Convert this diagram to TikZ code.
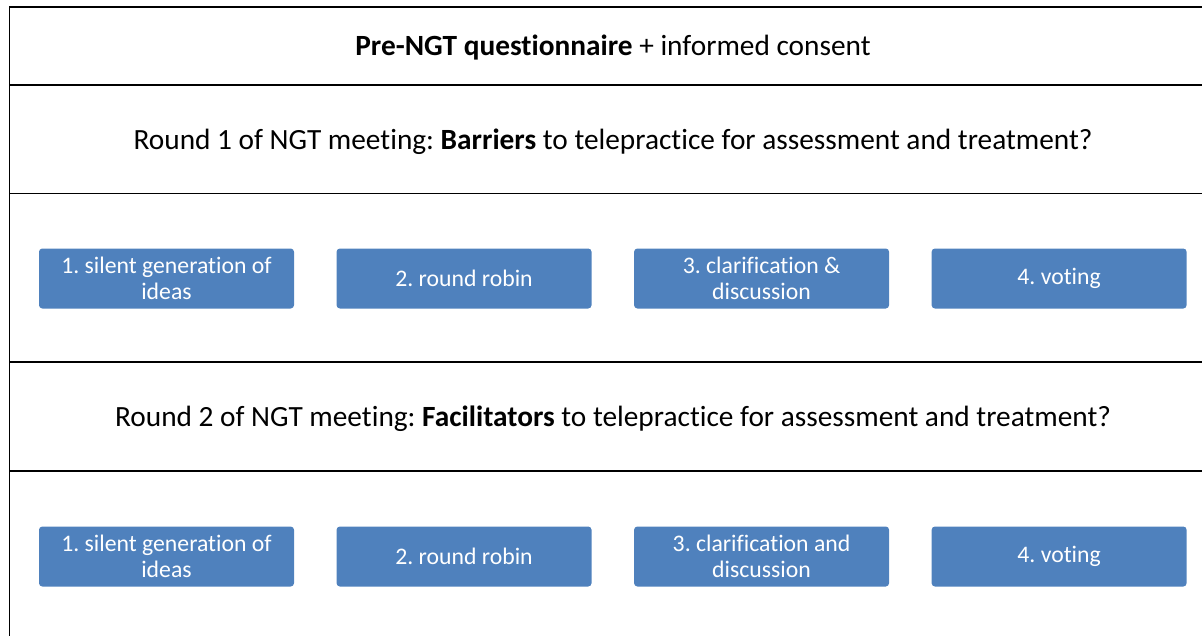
\documentclass[tikz,border=0pt]{standalone}
\usepackage{fontspec}
\setmainfont[Ligatures=NoCommon]{Carlito}
\usepackage{xcolor}
\usetikzlibrary{positioning}
\definecolor{stepblue}{HTML}{4F81BD}

\begin{document}
\frenchspacing
\begin{tikzpicture}[x=0.75pt, y=-0.75pt,
    rule/.style={line width=1pt},
    heading/.style={font=\fontsize{22}{26}\selectfont},
    stage/.style={fill=stepblue, rounded corners=2.5pt, text=white,
      minimum width=191.25pt, minimum height=45pt, text width=180pt,
      align=flush center, inner sep=0pt, font=\fontsize{17.8}{19.5}\selectfont}]
    \useasboundingbox (0,0) rectangle (1202,636);

    % table frame, open at the right and the bottom
    \draw[rule] (1202,7) -- (9.5,7) -- (9.5,636);
    \foreach \y in {85,193.5,362,471}
        \draw[rule] (9.5,\y) -- (1202,\y);

    % headings
    \node[heading] (pre) at (613,48) {\textbf{Pre-NGT questionnaire} + informed consent};
    \node[heading] (round1) at (613,142) {Round 1 of NGT meeting: \textbf{Barriers} to telepractice for assessment and treatment?};
    \node[heading] (round2) at (613,419) {Round 2 of NGT meeting: \textbf{Facilitators} to telepractice for assessment and treatment?};

    % steps of round 1
    \node[stage] (b1) at (166.5,278.5) {1. silent generation of ideas};
    \node[stage, right=31.5pt of b1] (b2) {2. round robin};
    \node[stage, right=31.5pt of b2] (b3) {3. clarification \& discussion};
    \node[stage, right=31.5pt of b3] (b4) {4. voting};

    % steps of round 2
    \node[stage] (f1) at (166.5,556.5) {1. silent generation of ideas};
    \node[stage, right=31.5pt of f1] (f2) {2. round robin};
    \node[stage, right=31.5pt of f2] (f3) {3. clarification and discussion};
    \node[stage, right=31.5pt of f3] (f4) {4. voting};
\end{tikzpicture}
\end{document}
